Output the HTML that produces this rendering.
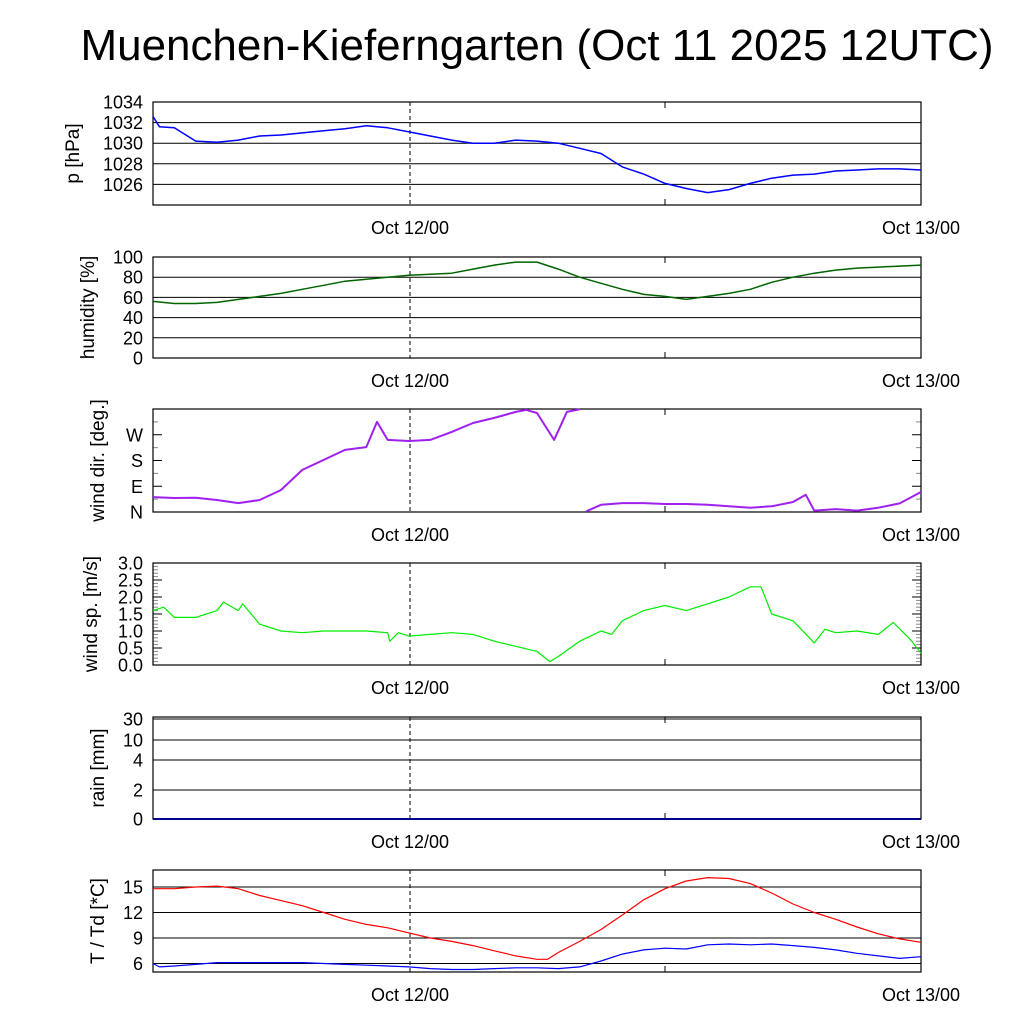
<!DOCTYPE html>
<html><head><meta charset="utf-8">
<style>
body{margin:0;background:#fff;}
svg{display:block;font-family:"Liberation Sans",sans-serif;}
</style></head>
<body>
<svg id="chart" width="1024" height="1024" xmlns="http://www.w3.org/2000/svg">
<text x="537" y="60" font-size="44" text-anchor="middle" textLength="913" lengthAdjust="spacingAndGlyphs">Muenchen-Kieferngarten (Oct 11 2025 12UTC)</text>
</svg>
<script>
const hoursP=[0,0.3,1,2,3,4,5,6,7,8,9,10,11,12,13,14,15,16,17,18,19,20,21,22,23,24,25,26,27,28,29,30,31,32,33,34,35,36];
const pressure=[1032.6,1031.6,1031.5,1030.2,1030.1,1030.3,1030.7,1030.8,1031.0,1031.2,1031.4,1031.7,1031.5,1031.1,1030.7,1030.3,1030.0,1030.0,1030.3,1030.2,1030.0,1029.5,1029.0,1027.7,1027.0,1026.1,1025.6,1025.2,1025.5,1026.1,1026.6,1026.9,1027.0,1027.3,1027.4,1027.5,1027.5,1027.4];
const hoursH=[0,1,2,3,4,5,6,7,8,9,10,11,12,13,14,15,16,17,18,19,20,21,22,23,24,25,26,27,28,29,30,31,32,33,34,35,36];
const humidity=[56,54,54,55,58,61,64,68,72,76,78,80,82,83,84,88,92,95,95,88,80,74,68,63,61,58,61,64,68,75,80,84,87,89,90,91,92];
const hoursD=[0,1,2,3,4,5,6,7,8,9,10,10.5,11,12,13,14,15,16,17,17.5,18,18.8,19.4,20,20.3,21,22,23,24,25,26,27,28,29,30,30.6,31,32,33,34,35,36];
const winddir=[52,49,50,42,31,42,77,147,182,217,227,315,252,248,252,280,311,329,350,357,346,252,350,359,2,25,31,31,28,28,25,20,15,20,35,60,5,10,5,15,30,70];
const hoursS=[0,0.5,1,2,3,3.3,4,4.2,5,6,7,8,9,10,11,11.1,11.5,12,13,14,15,16,17,18,18.6,19,20,21,21.5,22,23,24,25,26,27,28,28.5,29,30,31,31.5,32,33,34,34.7,35.5,36];
const windspeed=[1.6,1.7,1.4,1.4,1.6,1.85,1.6,1.8,1.2,1.0,0.95,1.0,1.0,1.0,0.95,0.7,0.95,0.85,0.9,0.95,0.9,0.7,0.55,0.4,0.1,0.25,0.7,1.0,0.9,1.3,1.6,1.75,1.6,1.8,2.0,2.3,2.3,1.5,1.3,0.65,1.05,0.95,1.0,0.9,1.25,0.75,0.35];
const hoursT=[0,1,2,3,4,5,6,7,8,9,10,11,12,13,14,15,16,17,18,18.5,19,20,21,22,23,24,25,26,27,28,29,30,31,32,33,34,35,36];
const temp=[14.8,14.8,15.0,15.1,14.8,14.0,13.4,12.8,12.0,11.2,10.6,10.2,9.6,9.0,8.6,8.1,7.5,6.9,6.5,6.5,7.3,8.6,10.0,11.7,13.5,14.8,15.7,16.1,16.0,15.4,14.3,13.0,12.0,11.2,10.3,9.5,8.9,8.5];
const hoursTd=[0,0.3,1,2,3,4,5,6,7,8,9,10,11,12,13,14,15,16,17,18,19,20,21,22,23,24,25,26,27,28,29,30,31,32,33,34,35,36];
const dewpoint=[6.0,5.6,5.7,5.9,6.1,6.1,6.1,6.1,6.1,6.0,5.9,5.8,5.7,5.6,5.4,5.3,5.3,5.4,5.5,5.5,5.4,5.6,6.3,7.1,7.6,7.8,7.7,8.2,8.3,8.2,8.3,8.1,7.9,7.6,7.2,6.9,6.6,6.8];
const hoursR=[0,36];
const rain=[0,0];

const NS="http://www.w3.org/2000/svg";
const svg=document.getElementById('chart');
const X0=153,X1=921;
const xs=h=>X0+(X1-X0)*h/36;
function el(t,a,p){const e=document.createElementNS(NS,t);for(const k in a)e.setAttribute(k,a[k]);(p||svg).appendChild(e);return e;}

function panel(name,top,bot,ys,ticks,grid,label,lx,minor){
  const g=el('g',{});
  
  
  ticks.forEach(t=>{
    const y=ys(t.v);
    if(grid) el('line',{x1:X0,x2:X1,y1:y,y2:y,stroke:'#000','stroke-width':1},g);
    else{el('line',{x1:X0,x2:X0+9,y1:y,y2:y,stroke:'#000'},g);el('line',{x1:X1-9,x2:X1,y1:y,y2:y,stroke:'#000'},g);}
    const tx=el('text',{x:X0-10,y:y+6.5,'font-size':18,'text-anchor':'end'},g);
    tx.textContent=t.l;
    
    
  });
  (minor||[]).forEach(v=>{const y=ys(v);el('line',{x1:X0,x2:X0+5,y1:y,y2:y,stroke:'#888'},g);el('line',{x1:X1-5,x2:X1,y1:y,y2:y,stroke:'#888'},g);});
  el('line',{x1:410,x2:410,y1:top,y2:bot,stroke:'#000','stroke-dasharray':'4,3'},g);
  el('line',{x1:665,x2:665,y1:bot-6,y2:bot,stroke:'#000'},g);
  el('line',{x1:665,x2:665,y1:top,y2:top+6,stroke:'#000'},g);
  el('rect',{x:X0,y:top,width:X1-X0,height:bot-top,fill:'none',stroke:'#000','stroke-width':1.2},g);
  [[410,'Oct 12/00'],[921,'Oct 13/00']].forEach(([x,s])=>{
    const t=el('text',{x:x,y:bot+29,'font-size':18,'text-anchor':'middle'},g);t.textContent=s;
    
    
  });
  const yl=el('text',{transform:`translate(${lx},${(top+bot)/2}) rotate(-90)`,'font-size':19,'text-anchor':'middle'},g);
  yl.textContent=label;
  
  
  return g;
}
function series(g,name,hs,vs,ys,color,w,wrap){
  let d='';
  for(let i=0;i<hs.length;i++){
    const brk=i==0||(wrap&&Math.abs(vs[i]-vs[i-1])>180);
    d+=(brk?'M':'L')+xs(hs[i]).toFixed(1)+','+ys(vs[i]).toFixed(1);
  }
  const p=el('path',{d:d,fill:'none',stroke:color,'stroke-width':w||1.5,'stroke-linejoin':'round'},g);
  
  
}
let ys=v=>205-(v-1024)*10.3;
let g=panel('pressure',102,205,ys,[1026,1028,1030,1032,1034].map(v=>({v,l:v})),true,'p [hPa]',79);
series(g,'pressure',hoursP,pressure,ys,'#0000ff');
ys=v=>358-v*1.01;
g=panel('humidity',257,358,ys,[0,20,40,60,80,100].map(v=>({v,l:v})),true,'humidity [%]',94);
series(g,'humidity',hoursH,humidity,ys,'#006400');
ys=v=>512-v*103/360;
g=panel('winddir',409,512,ys,[{v:0,l:'N'},{v:90,l:'E'},{v:180,l:'S'},{v:270,l:'W'}],false,'wind dir. [deg.]',104,[45,135,225,315]);
series(g,'winddir',hoursD,winddir,ys,'#a020f0',2,true);
ys=v=>665-v*34;
g=panel('windspeed',563,665,ys,[0,0.5,1,1.5,2,2.5,3].map(v=>({v,l:v.toFixed(1)})),false,'wind sp. [m/s]',97,[0.1,0.2,0.3,0.4,0.6,0.7,0.8,0.9,1.1,1.2,1.3,1.4,1.6,1.7,1.8,1.9,2.1,2.2,2.3,2.4,2.6,2.7,2.8,2.9]);
series(g,'windspeed',hoursS,windspeed,ys,'#00ee00',1.2);
const rmap={0:819,2:790,4:760,10:740,30:719};
ys=v=>rmap[v]!==undefined?rmap[v]:819-v*14.5;
g=panel('rain',717,819,ys,[0,2,4,10,30].map(v=>({v,l:v})),true,'rain [mm]',104);
series(g,'rain',hoursR,rain,ys,'#00008b',2);
ys=v=>870+(17-v)*8.5;
g=panel('temperature',870,972,ys,[6,9,12,15].map(v=>({v,l:v})),true,'T / Td [*C]',104);
series(g,'temperature',hoursT,temp,ys,'#ff0000',1.2);
series(g,'dewpoint',hoursTd,dewpoint,ys,'#0000ff',1.2);
</script>
</body></html>
